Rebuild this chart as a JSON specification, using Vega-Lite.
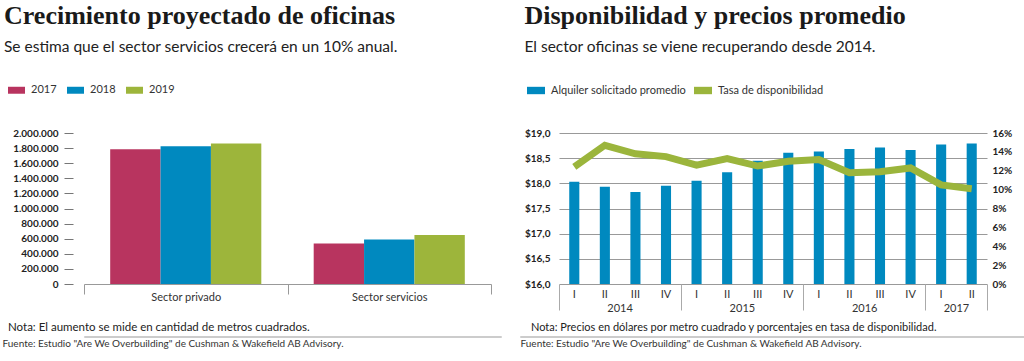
{
  "$schema": "https://vega.github.io/schema/vega-lite/v6.json",
  "padding": {"left": 2, "top": 2, "right": 0, "bottom": 0},
  "background": "white",
  "config": {
    "font": "Lato",
    "view": {"stroke": null},
    "locale": {"number": {"decimal": ",", "thousands": ".", "grouping": [3], "currency": ["$", ""]}},
    "title": {"font": "Liberation Serif", "fontSize": 26, "fontWeight": "bold", "color": "#1a1a1a", "subtitleFont": "Lato", "subtitleFontSize": 15.5, "subtitleColor": "#222", "subtitlePadding": 11},
    "axis": {"labelFont": "Lato", "labelColor": "#222"},
    "legend": {"labelFont": "Lato", "labelColor": "#333"}
  },
  "columns": 1,
  "align": "none",
  "spacing": 8,
  "concat": [
    {
      "spacing": 32,
      "resolve": {"scale": {"color": "independent"}, "legend": {"color": "independent"}},
      "hconcat": [
        {
          "width": 407,
          "height": 151,
          "title": {"text": "Crecimiento proyectado de oficinas", "subtitle": "Se estima que el sector servicios crecerá en un 10% anual.", "anchor": "start", "frame": "bounds", "offset": 26.5, "dx": -4},
          "data": {"values": [
            {"sector": "Sector privado", "anio": "2017", "valor": 1784000},
            {"sector": "Sector privado", "anio": "2018", "valor": 1824000},
            {"sector": "Sector privado", "anio": "2019", "valor": 1860000},
            {"sector": "Sector servicios", "anio": "2017", "valor": 538000},
            {"sector": "Sector servicios", "anio": "2018", "valor": 591000},
            {"sector": "Sector servicios", "anio": "2019", "valor": 648000}
          ]},
          "mark": {"type": "bar"},
          "encoding": {
            "x": {"field": "sector", "type": "nominal", "title": null,
              "scale": {"paddingInner": 0, "paddingOuter": 0},
              "axis": {"domainColor": "#999", "tickBand": "extent", "tickSize": 10, "tickColor": "#999", "labelFontSize": 11, "labelPadding": -3, "labelAngle": 0, "labelColor": "#333"}},
            "xOffset": {"field": "anio", "type": "nominal", "scale": {"paddingInner": 0, "paddingOuter": 0.52}},
            "y": {"field": "valor", "type": "quantitative", "title": null,
              "scale": {"domain": [0, 2000000]},
              "axis": {"values": [0, 200000, 400000, 600000, 800000, 1000000, 1200000, 1400000, 1600000, 1800000, 2000000], "format": ",.0f", "domain": false, "grid": false, "tickSize": 9, "tickColor": "#777", "offset": 11, "labelFontWeight": "bold", "labelFontSize": 10, "labelPadding": 6}},
            "color": {"field": "anio", "type": "nominal",
              "scale": {"domain": ["2017", "2018", "2019"], "range": ["#b8345f", "#0089bf", "#9db53b"]},
              "legend": {"title": null, "orient": "none", "legendX": -76, "legendY": -51.5, "direction": "horizontal", "symbolType": "M-1,-0.41H1V0.41H-1Z", "symbolSize": 289, "symbolStrokeWidth": 0, "labelFontSize": 11, "labelOffset": 6, "columnPadding": 10}}
          }
        },
        {
          "width": 428,
          "height": 151,
          "title": {"text": "Disponibilidad y precios promedio", "subtitle": "El sector oficinas se viene recuperando desde 2014.", "anchor": "start", "frame": "bounds", "offset": 26.5, "dx": 0},
          "data": {"values": [
            {"periodo": "2014-I", "alquiler": 18.03, "tasa": 12.4},
            {"periodo": "2014-II", "alquiler": 17.93, "tasa": 14.7},
            {"periodo": "2014-III", "alquiler": 17.83, "tasa": 13.8},
            {"periodo": "2014-IV", "alquiler": 17.95, "tasa": 13.5},
            {"periodo": "2015-I", "alquiler": 18.05, "tasa": 12.6},
            {"periodo": "2015-II", "alquiler": 18.22, "tasa": 13.3},
            {"periodo": "2015-III", "alquiler": 18.45, "tasa": 12.5},
            {"periodo": "2015-IV", "alquiler": 18.61, "tasa": 13.0},
            {"periodo": "2016-I", "alquiler": 18.63, "tasa": 13.2},
            {"periodo": "2016-II", "alquiler": 18.68, "tasa": 11.8},
            {"periodo": "2016-III", "alquiler": 18.71, "tasa": 11.9},
            {"periodo": "2016-IV", "alquiler": 18.66, "tasa": 12.3},
            {"periodo": "2017-I", "alquiler": 18.77, "tasa": 10.5},
            {"periodo": "2017-II", "alquiler": 18.79, "tasa": 10.1}
          ]},
          "layer": [
            {
              "mark": {"type": "bar", "width": {"band": 0.33}},
              "encoding": {
                "x": {"field": "periodo", "type": "ordinal", "sort": null, "title": null,
                  "scale": {"paddingInner": 0, "paddingOuter": 0},
                  "axis": {"orient": "bottom", "labelExpr": "datum.value ? split(datum.value, '-')[1] : ''", "ticks": false, "domain": false, "labelPadding": 4, "labelAngle": 0, "labelFontSize": 11, "labelColor": "#333"}},
                "y": {"field": "alquiler", "type": "quantitative", "title": null,
                  "scale": {"domain": [16, 19], "zero": false},
                  "axis": {"values": [16, 16.5, 17, 17.5, 18, 18.5, 19], "format": "$.1f", "grid": true, "gridColor": "#999", "domain": false, "ticks": false, "labelPadding": 9, "labelFontWeight": "bold", "labelFontSize": 10}},
                "y2": {"datum": 16},
                "color": {"datum": "Alquiler solicitado promedio", "type": "nominal",
                  "scale": {"domain": ["Alquiler solicitado promedio", "Tasa de disponibilidad"], "range": ["#0089bf", "#9bb53c"]},
                  "legend": {"title": null, "orient": "none", "legendX": -32, "legendY": -51.5, "direction": "horizontal", "symbolType": "M-1,-0.41H1V0.41H-1Z", "symbolSize": 324, "symbolStrokeWidth": 0, "labelFontSize": 11, "labelOffset": 6, "columnPadding": 7}}
              }
            },
            {
              "mark": {"type": "line", "strokeWidth": 7, "strokeCap": "butt", "strokeJoin": "miter"},
              "encoding": {
                "x": {"field": "periodo", "type": "ordinal", "sort": null, "title": null,
                  "axis": {"orient": "bottom", "values": ["2014-I", "2014-IV", "2015-IV", "2016-IV", "2017-II"], "bandPosition": 1, "tickExtra": true, "tickSize": 26, "tickColor": "#aaa", "domain": false, "grid": false,
                    "tickOpacity": {"condition": {"test": "datum.value == '2014-I'", "value": 0}, "value": 1},
                    "labelExpr": "(datum.value && datum.value != '2014-I') ? slice(datum.value, 0, 4) : ''",
                    "labelOffset": {"condition": {"test": "datum.value == '2017-II'", "value": -15.3}, "value": -45.9},
                    "labelPadding": -8, "labelAngle": 0, "labelFontSize": 11, "labelColor": "#333"}},
                "y": {"field": "tasa", "type": "quantitative", "title": null,
                  "scale": {"domain": [0, 16]},
                  "axis": {"orient": "right", "values": [0, 2, 4, 6, 8, 10, 12, 14, 16], "labelExpr": "datum.value + '%'", "grid": false, "domain": false, "ticks": false, "labelPadding": 5, "labelFontWeight": "bold", "labelFontSize": 10}},
                "color": {"datum": "Tasa de disponibilidad", "type": "nominal"}
              }
            }
          ],
          "resolve": {"scale": {"y": "independent"}, "axis": {"x": "independent"}}
        }
      ]
    },
    {
      "spacing": 17,
      "hconcat": [
        {
          "title": {"text": "Fuente: Estudio \"Are We Overbuilding\" de Cushman & Wakefield AB Advisory.", "orient": "bottom", "anchor": "start", "font": "Lato", "fontSize": 10, "fontWeight": "normal", "color": "#333", "offset": 1, "dx": -5},
          "vconcat": [
            {"data": {"values": []}, "mark": "point", "width": 417, "height": 1, "view": {"stroke": "#cccccc", "strokeWidth": 1},
              "title": {"text": "Nota: El aumento se mide en cantidad de metros cuadrados.", "anchor": "start", "frame": "bounds", "font": "Lato", "fontSize": 11.5, "fontWeight": "normal", "color": "#222", "offset": 3, "dx": -76}}
          ]
        },
        {
          "title": {"text": "Fuente: Estudio \"Are We Overbuilding\" de Cushman & Wakefield AB Advisory.", "orient": "bottom", "anchor": "start", "font": "Lato", "fontSize": 10, "fontWeight": "normal", "color": "#333", "offset": 1, "dx": 1},
          "vconcat": [
            {"data": {"values": []}, "mark": "point", "width": 507, "height": 1, "view": {"stroke": "#cccccc", "strokeWidth": 1},
              "title": {"text": "Nota: Precios en dólares por metro cuadrado y porcentajes en tasa de disponibilidad.", "anchor": "start", "frame": "bounds", "font": "Lato", "fontSize": 11, "fontWeight": "normal", "color": "#222", "offset": 3, "dx": 11}}
          ]
        }
      ]
    }
  ]
}
